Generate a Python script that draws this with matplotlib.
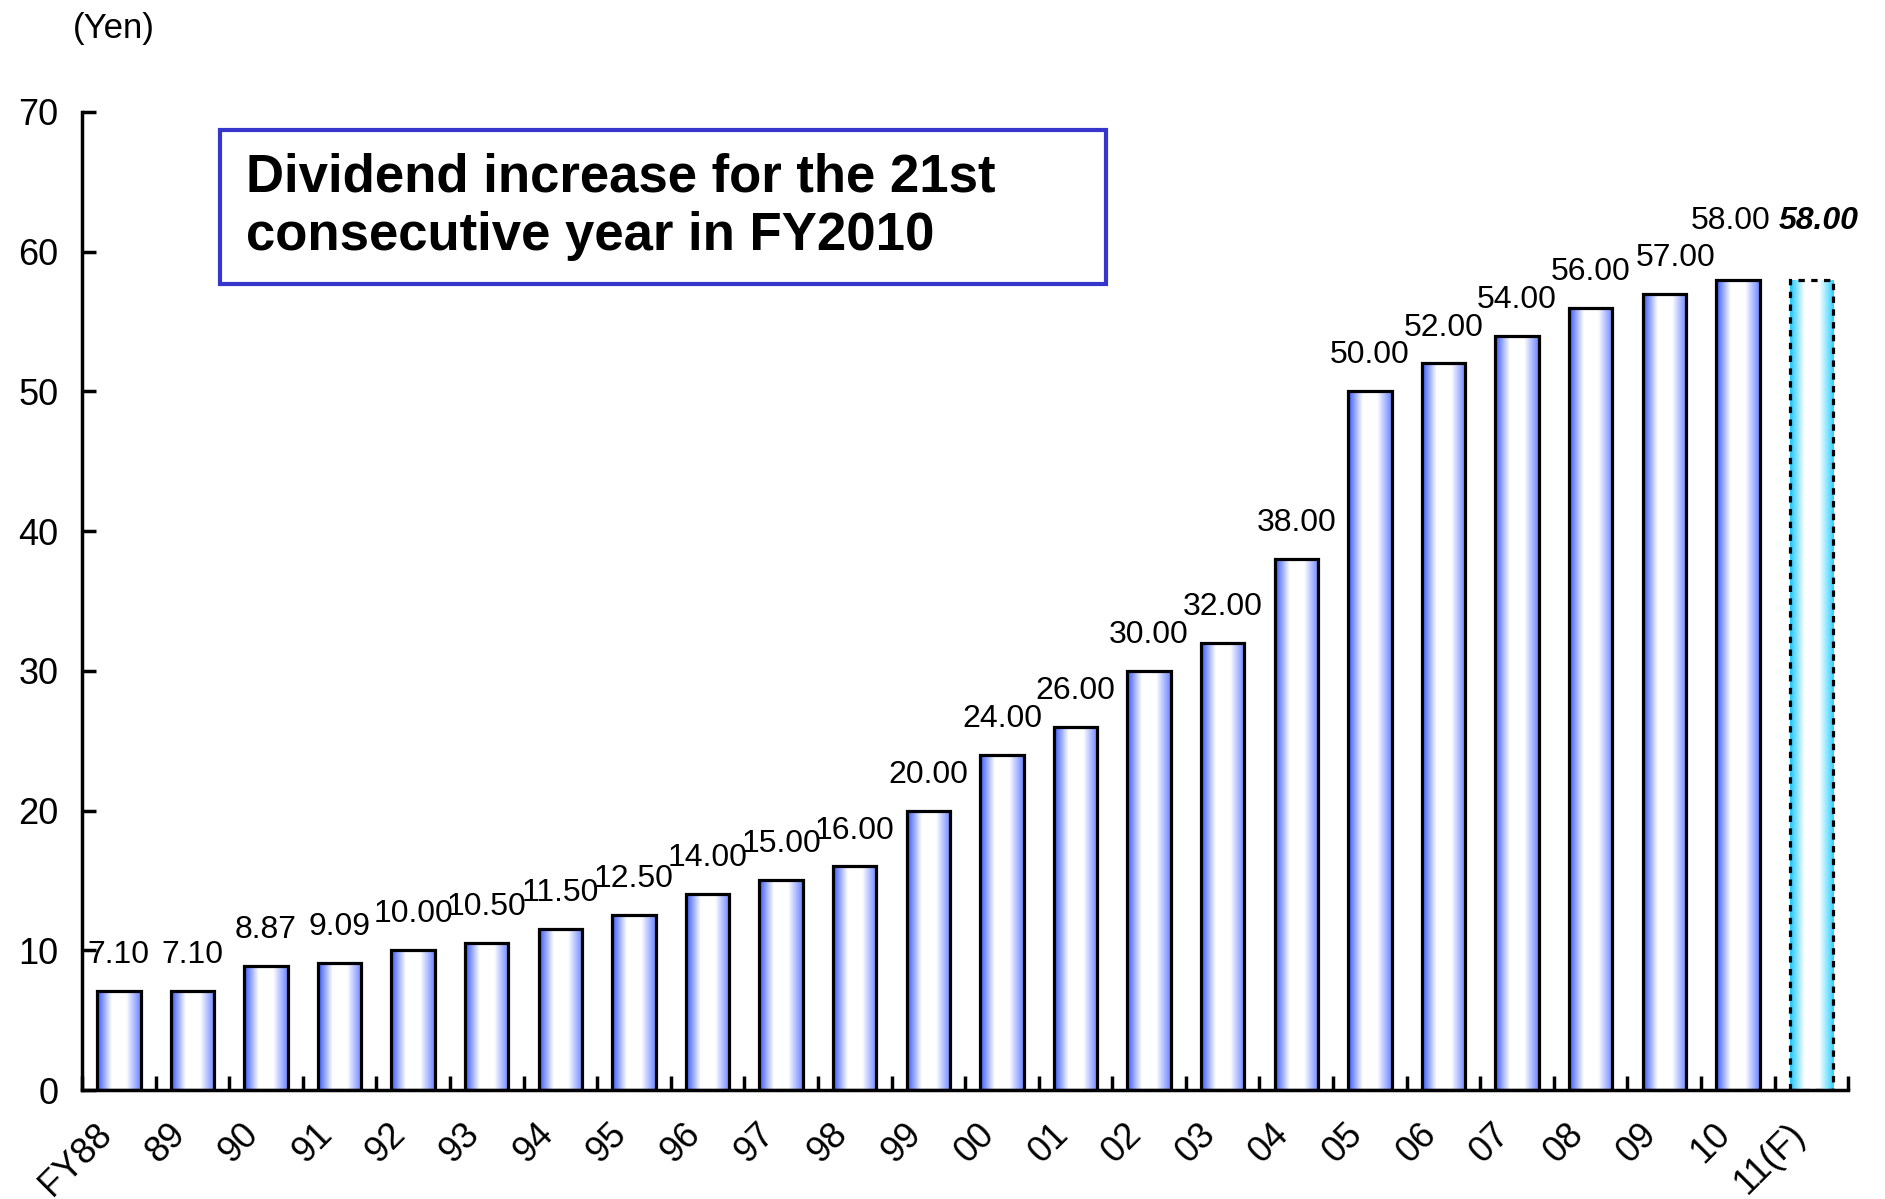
import numpy as np
import matplotlib
matplotlib.use('Agg')
from matplotlib import pyplot as plt
from matplotlib.colors import LinearSegmentedColormap
from matplotlib.patches import Rectangle
import matplotlib.transforms as mtrans

plt.rcParams['font.family']=['Liberation Sans','DejaVu Sans']

# data
years=['FY88','89','90','91','92','93','94','95','96','97','98','99',
       '00','01','02','03','04','05','06','07','08','09','10','11(F)']
dividend=[7.10,7.10,8.87,9.09,10.00,10.50,11.50,12.50,14.00,15.00,16.00,20.00,
          24.00,26.00,30.00,32.00,38.00,50.00,52.00,54.00,56.00,57.00,58.00,58.00]
labels=['%.2f' % v for v in dividend]

blue=LinearSegmentedColormap.from_list('b',['#3556ff','#ffffff','#ffffff','#6a84ff'])
cyan=LinearSegmentedColormap.from_list('c',['#19c8ff','#ffffff','#ffffff','#2ad0ff'])
grad=np.linspace(0,1,200).reshape(1,-1)

fig=plt.figure(figsize=(18.85,11.99),dpi=100)
ax=fig.add_axes([0.0435,0.0909,0.937,0.8157])

x=np.arange(len(years))
bars=ax.bar(x,dividend,width=0.59,color='none',edgecolor='k',linewidth=2.3,zorder=3)
for i,b in enumerate(bars):
    cm=cyan if i==len(years)-1 else blue
    im=ax.imshow(grad,cmap=cm,aspect='auto',zorder=2,
                 extent=[b.get_x(),b.get_x()+b.get_width(),0,b.get_height()])
    im.set_clip_path(b)
bars[-1].set_linestyle((0,(2,2)))

n=len(years)
# small horizontal nudges for the crowded labels at the right
nudge={n-3:0.15,n-2:-0.1,n-1:0.1}
for i,v in enumerate(dividend):
    dy=2.0
    if i>=n-2:
        dy=3.6   # last two labels sit higher, side by side
    dx=nudge.get(i,0)
    if i==n-1:
        ax.text(x[i]+dx,v+dy,labels[i],ha='center',va='baseline',fontsize=23,
                fontweight='bold',style='italic')
    else:
        ax.text(x[i]+dx,v+dy,labels[i],ha='center',va='baseline',fontsize=23)

ax.set_xlim(-0.5,n-0.5)
ax.set_ylim(0,70)
ax.set_yticks(np.arange(0,71,10))
ax.set_xticks(x)
ax.set_xticklabels(years,rotation=45,ha='right',rotation_mode='anchor')
ax.set_xticks(np.arange(-0.5,n,1),minor=True)
ax.tick_params(axis='x',which='major',length=0,labelsize=26,pad=19)
ax.tick_params(axis='x',which='minor',direction='in',length=10,width=2.5)
ax.tick_params(axis='y',direction='in',length=10,width=2.5,labelsize=26,pad=17)
off=mtrans.ScaledTranslation(-0.25,0,fig.dpi_scale_trans)
for t in ax.get_xticklabels():
    t.set_transform(t.get_transform()+off)
for s in ['top','right']:
    ax.spines[s].set_visible(False)
for s in ['left','bottom']:
    ax.spines[s].set_linewidth(2.5)

fig.text(0.0605,0.99,'(Yen)',fontsize=25,ha='center',va='top')

ax.add_patch(Rectangle((0.078,0.824),0.502,0.158,transform=ax.transAxes,
                       fc='white',ec='#3636cc',lw=3,zorder=4,clip_on=False))
ax.text(0.093,0.903,'Dividend increase for the 21st\nconsecutive year in FY2010',
        transform=ax.transAxes,fontsize=38,fontweight='bold',va='center',ha='left',
        linespacing=1.2,zorder=5)

plt.savefig('out.png',dpi=100)
